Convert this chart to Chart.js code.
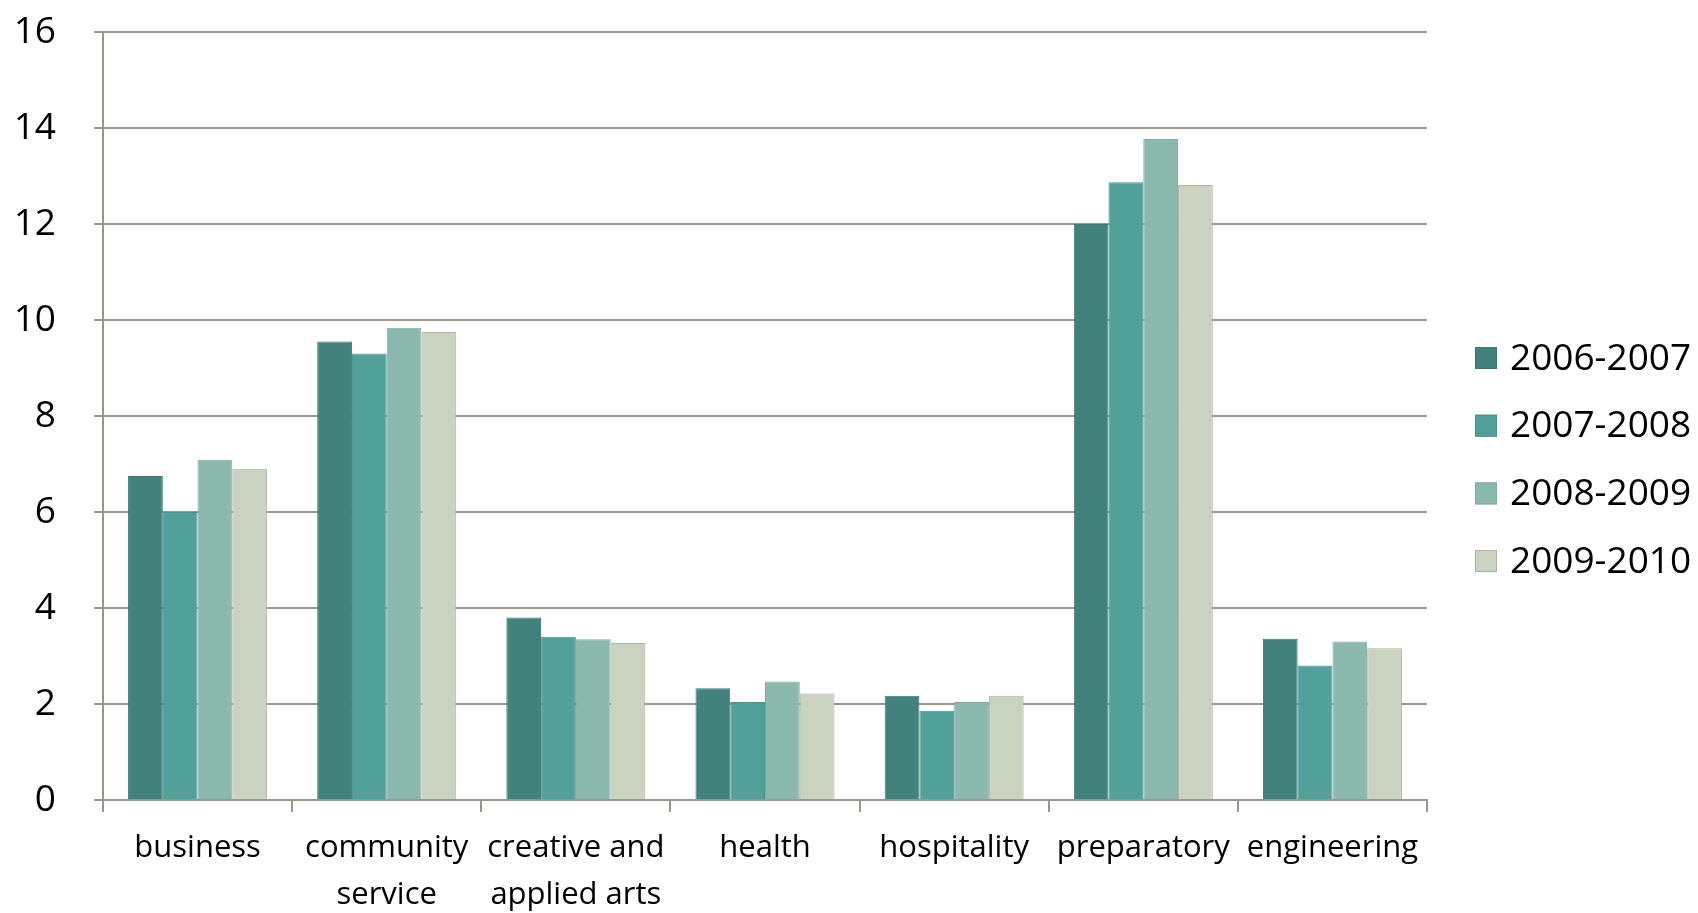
<!DOCTYPE html>
<html>
<head>
<meta charset="utf-8">
<script src="https://cdn.jsdelivr.net/npm/chart.js@4"></script>
<style>
  html, body { margin: 0; padding: 0; background: #fff; }
  #wrap { width: 1698px; height: 913px; }
</style>
</head>
<body>
<div id="wrap"><canvas id="barChart" width="1698" height="913"></canvas></div>
<script>
const categories = ['business', ['community', 'service'], ['creative and', 'applied arts'], 'health', 'hospitality', 'preparatory', 'engineering'];
const seriesNames = ['2006-2007', '2007-2008', '2008-2009', '2009-2010'];
const values2006 = [6.75, 9.55, 3.80, 2.33, 2.17, 12.00, 3.36];
const values2007 = [6.00, 9.30, 3.40, 2.04, 1.86, 12.87, 2.80];
const values2008 = [7.09, 9.84, 3.35, 2.47, 2.04, 13.77, 3.30];
const values2009 = [6.90, 9.75, 3.27, 2.22, 2.17, 12.81, 3.16];
const yTicks = [0, 2, 4, 6, 8, 10, 12, 14, 16];

const fillColors = ['#41837c', '#52a09a', '#8cb9ae', '#c9d3c0'];
const edgeColors = ['#3b7770', '#4a938d', '#80aba1', '#aeb3a6'];
const gridColor = '#9d968a';
const fontFamily = '"Open Sans", "DejaVu Sans", sans-serif';

// legend drawn by hand so it sits where the original has it
const sideLegend = {
    id: 'sideLegend',
    afterDraw(chart) {
        const ctx = chart.ctx;
        ctx.save();
        ctx.font = '37px ' + fontFamily;
        ctx.textBaseline = 'middle';
        chart.data.datasets.forEach((ds, i) => {
            const y = 358 + i * 67.7;
            ctx.fillStyle = ds.backgroundColor;
            ctx.fillRect(1475, y - 11, 22, 22);
            ctx.strokeStyle = ds.borderColor;
            ctx.lineWidth = 1;
            ctx.strokeRect(1475.5, y - 10.5, 21, 21);
            ctx.fillStyle = '#000';
            ctx.fillText(ds.label, 1510, y + 1);
        });
        ctx.restore();
    }
};

const seriesValues = [values2006, values2007, values2008, values2009];

const ctx = document.getElementById('barChart').getContext('2d');
const barChart = new Chart(ctx, {
    type: 'bar',
    data: {
        labels: categories,
        datasets: seriesNames.map((name, i) => ({
            label: name,
            data: seriesValues[i],
            backgroundColor: fillColors[i],
            borderColor: edgeColors[i],
            borderWidth: 1,
            barPercentage: 1,
            categoryPercentage: 0.735
        }))
    },
    options: {
        responsive: false,
        animation: false,
        layout: { padding: { top: 32, right: 271, left: 0, bottom: 0 } },
        plugins: {
            legend: { display: false },
            tooltip: { enabled: false }
        },
        scales: {
            x: {
                grid: {
                    drawOnChartArea: false,
                    drawTicks: true,
                    tickLength: 12,
                    color: gridColor,
                    lineWidth: 2
                },
                border: { display: true, color: gridColor, width: 2 },
                ticks: {
                    color: '#000',
                    padding: 13,
                    maxRotation: 0,
                    autoSkip: false,
                    font: { family: fontFamily, size: 31, lineHeight: 1.5 }
                },
                afterFit(scale) {
                    scale.height = 113;
                    scale.paddingLeft = 0;
                    scale.paddingRight = 0;
                }
            },
            y: {
                min: 0,
                max: 16,
                afterBuildTicks(scale) { scale.ticks = yTicks.map(v => ({ value: v })); },
                grid: {
                    color: gridColor,
                    lineWidth: 2,
                    tickLength: 9
                },
                border: { display: true, color: gridColor, width: 2 },
                ticks: {
                    color: '#000',
                    padding: 38,
                    font: { family: fontFamily, size: 37 }
                },
                afterFit(scale) {
                    scale.width = 103;
                    scale.paddingTop = 0;
                    scale.paddingBottom = 0;
                }
            }
        }
    },
    plugins: [sideLegend]
});
</script>
</body>
</html>
